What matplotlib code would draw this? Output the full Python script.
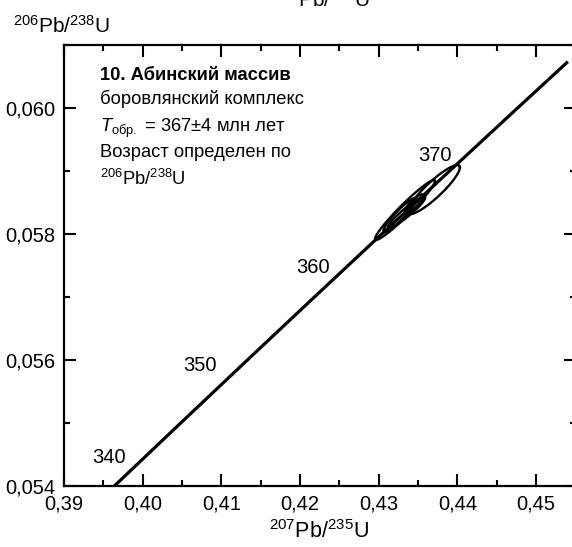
import numpy as np
import matplotlib
matplotlib.use("Agg")
import matplotlib.pyplot as plt
from matplotlib.ticker import FixedLocator, FuncFormatter, MultipleLocator

plt.rcParams['font.family'] = ['Liberation Sans', 'DejaVu Sans']
plt.rcParams['mathtext.fontset'] = 'custom'
plt.rcParams['mathtext.rm'] = 'Liberation Sans'
plt.rcParams['mathtext.it'] = 'Liberation Sans:italic'
plt.rcParams['mathtext.bf'] = 'Liberation Sans:bold'
plt.rcParams['mathtext.default'] = 'regular'

# ---------------- data ----------------
LAMBDA_238 = 1.55125e-10   # 1/yr
LAMBDA_235 = 9.8485e-10    # 1/yr
concordia_age_range = [339.0, 380.1]       # Ma
age_labels = [340, 350, 360, 370]          # Ma, labelled points on concordia

# analysis error ellipses: 207Pb/235U, 206Pb/238U, half-extents and correlation
ell_x = [0.43701, 0.43333, 0.43352, 0.43269, 0.43450]
ell_y = [0.058706, 0.058381, 0.058341, 0.058302, 0.058480]
ell_sx = [0.00330, 0.00381, 0.00235, 0.00210, 0.00120]
ell_sy = [0.000389, 0.000476, 0.000246, 0.000270, 0.000150]
ell_rho = [0.90, 0.965, 0.94, 0.93, 0.85]

xlim = (0.39, 0.455)
ylim = (0.054, 0.061)
xticks = [0.39, 0.40, 0.41, 0.42, 0.43, 0.44, 0.45]
yticks = [0.054, 0.056, 0.058, 0.060]

info_lines = [
    "10. Абинский массив",
    "боровлянский комплекс",
    r"$\mathit{T}_{\mathrm{обр.}}$ = 367±4 млн лет",
    "Возраст определен по",
    r"$^{206}$Pb/$^{238}$U",
]

# ---------------- figure ----------------
W, H = 572, 547
fig = plt.figure(figsize=(W / 100, H / 100), dpi=100)
ax_l, ax_r, ax_t, ax_b = 64, 575.5, 45, 486
ax = fig.add_axes([ax_l / W, 1 - ax_b / H, (ax_r - ax_l) / W, (ax_b - ax_t) / H])
ax.set_xlim(*xlim)
ax.set_ylim(*ylim)

# concordia
t = np.linspace(concordia_age_range[0], concordia_age_range[1], 400) * 1e6
cx = np.exp(LAMBDA_235 * t) - 1
cy = np.exp(LAMBDA_238 * t) - 1
ax.plot(cx, cy, color='black', lw=2.3, solid_capstyle='butt')

# age labels (offsets in pixels from the concordia point)
label_offsets_px = [(-16, 19), (-34, 7), (-31, 2), (-20, 11)]
for age, (dx, dy) in zip(age_labels, label_offsets_px):
    ta = age * 1e6
    px = np.exp(LAMBDA_235 * ta) - 1
    py = np.exp(LAMBDA_238 * ta) - 1
    ax.annotate(str(age), (px, py), xytext=(dx * 0.72, dy * 0.72),
                textcoords='offset points', ha='center', va='center',
                fontsize=14.5)

# error ellipses
th = np.linspace(0, 2 * np.pi, 300)
for x0, y0, sx, sy, r in zip(ell_x, ell_y, ell_sx, ell_sy, ell_rho):
    ex = x0 + sx * np.cos(th)
    ey = y0 + sy * (r * np.cos(th) + np.sqrt(1 - r * r) * np.sin(th))
    ax.plot(ex, ey, color='black', lw=1.7)

# ticks
ax.xaxis.set_major_locator(FixedLocator(xticks))
ax.xaxis.set_minor_locator(MultipleLocator(0.005))
ax.yaxis.set_major_locator(FixedLocator(yticks))
ax.yaxis.set_minor_locator(MultipleLocator(0.001))
comma = lambda fmt: FuncFormatter(lambda v, p: (fmt % v).replace('.', ','))
ax.xaxis.set_major_formatter(comma('%.2f'))
ax.yaxis.set_major_formatter(comma('%.3f'))
ax.tick_params(which='both', direction='in', top=True, right=True,
               width=1.5, labelsize=14.5, pad=6, color='black')
ax.tick_params(which='major', length=8.5)
ax.tick_params(which='minor', length=4.5)
for s in ax.spines.values():
    s.set_linewidth(1.6)

# info text block
x_txt = 0.39 + (100 - ax_l) / 7870
baselines_px = [80, 104, 132, 157, 185]
for i, (line, bpx) in enumerate(zip(info_lines, baselines_px)):
    yv = 0.061 - (bpx - ax_t) / 63000
    ax.text(x_txt, yv, line, ha='left', va='baseline',
            fontsize=13.2, fontweight='bold' if i == 0 else 'normal')

# axis labels
fig.text(13 / W, 1 - 33 / H, r"$^{206}$Pb/$^{238}$U", ha='left', va='baseline', fontsize=15)
fig.text(319 / W, 1 - 538 / H, r"$^{207}$Pb/$^{235}$U", ha='center', va='baseline', fontsize=15.5)
# cut-off text at the very top (bottom edge of a label from the panel above)
fig.text(370 / W, 1 - 7 / H, r"$^{206}$Pb/$^{238}$U", ha='right', va='baseline', fontsize=15)

fig.savefig('out.png', dpi=100)
